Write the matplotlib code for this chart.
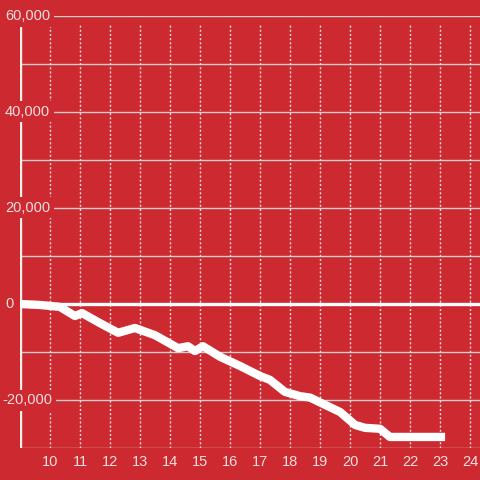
import matplotlib
matplotlib.use("Agg")
import matplotlib.pyplot as plt
from matplotlib.transforms import blended_transform_factory

# data (hour of day, value)
hours = [9.0, 9.67, 10.33, 10.83, 11.07, 11.67, 12.27, 12.83, 13.5, 14.27, 14.6,
         14.83, 15.1, 15.67, 16.33, 17.0, 17.33, 17.83, 18.33, 18.67, 19.0, 19.67,
         20.17, 20.5, 21.0, 21.33, 23.17]
values = [0, -200, -600, -2500, -1900, -4000, -6000, -5000, -6500, -9200, -8800,
          -9800, -8800, -11000, -12900, -15000, -15800, -18300, -19200, -19500,
          -20500, -22500, -25200, -25800, -26000, -27700, -27700]
x_ticks = list(range(10, 25))
y_grid = list(range(-30000, 60001, 10000))
y_labels = [60000, 40000, 20000, 0, -20000]

BG = "#cc2a30"
TXT = "#f3dede"

fig = plt.figure(figsize=(4.8, 4.8), dpi=100, facecolor=BG)
ax = fig.add_axes([20 / 480, 32 / 480, 460 / 480, 432 / 480])
ax.set_facecolor(BG)
ax.set_xlim(9, 9 + 460 / 30)
ax.set_ylim(-30000, 60000)
for s in ax.spines.values():
    s.set_visible(False)

for yv in y_grid:
    ax.axhline(yv, color="#cfcfcf", lw=1.0, zorder=1)
for xv in x_ticks:
    ax.axvline(xv, color="#f0d8d8", lw=1.0, ls=(0, (1.5, 1.5)), ymax=(448 - 23) / 432, zorder=1)

ax.axhline(0, color="white", lw=2.4, zorder=2)
ax.axvline(9, color="#f5f0f0", lw=2.4, zorder=2)

ax.plot(hours, values, color="white", lw=6, solid_capstyle="butt", solid_joinstyle="round", zorder=3)

ax.set_xticks(x_ticks)
ax.set_xticklabels([str(t) for t in x_ticks], fontfamily="Liberation Sans", fontsize=10.5, color=TXT)
ax.tick_params(axis="x", length=0, pad=5)
ax.set_yticks([])

trans = blended_transform_factory(fig.transFigure, ax.transData)
for yv in y_labels:
    ax.text(5 / 480 if yv >= 0 else 2 / 480, yv, f"{yv:,}", transform=trans, ha="left", va="center",
            fontfamily="Liberation Sans", fontsize=10.5, color=TXT, zorder=5,
            bbox=dict(facecolor=BG, edgecolor="none", pad=2.5))

fig.savefig("out.png", dpi=100, facecolor=BG)
